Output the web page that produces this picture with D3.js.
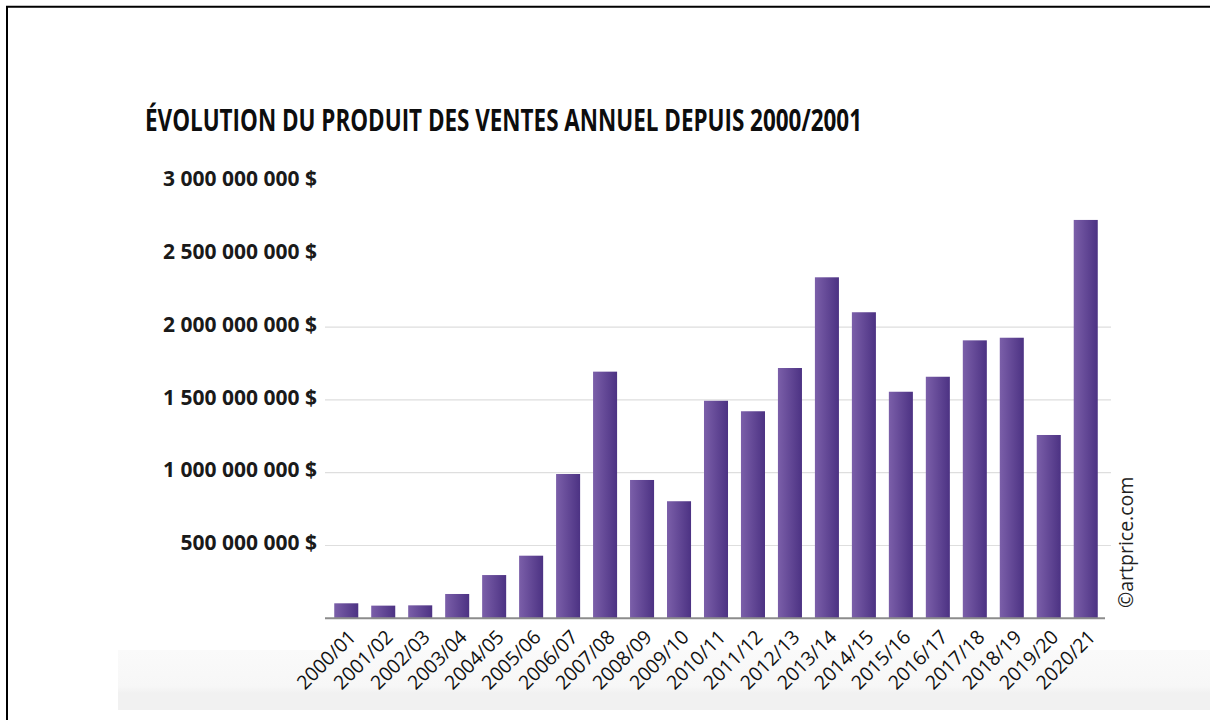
<!DOCTYPE html>
<html>
<head>
<meta charset="utf-8">
<script src="https://cdn.jsdelivr.net/npm/d3@7"></script>
<style>
  body { margin: 0; background: #fff; }
  svg { display: block; font-family: 'Open Sans', 'Noto Sans', sans-serif; }
</style>
</head>
<body>
<div class="canvas"></div>
<script>
// data
const seasons = ['2000/01', '2001/02', '2002/03', '2003/04', '2004/05', '2005/06', '2006/07',
  '2007/08', '2008/09', '2009/10', '2010/11', '2011/12', '2012/13', '2013/14', '2014/15',
  '2015/16', '2016/17', '2017/18', '2018/19', '2019/20', '2020/21'];
const turnover = [103e6, 87e6, 89e6, 167e6, 297e6, 430e6, 991e6, 1694e6, 950e6, 804e6,
  1494e6, 1422e6, 1719e6, 2342e6, 2102e6, 1556e6, 1659e6, 1909e6, 1927e6, 1259e6, 2736e6];
const yTicks = [500e6, 1000e6, 1500e6, 2000e6, 2500e6, 3000e6];
const gridTicks = [500e6, 1000e6, 1500e6, 2000e6];
const title = 'ÉVOLUTION DU PRODUIT DES VENTES ANNUEL DEPUIS 2000/2001';
const credit = '©artprice.com';

const width = 1210;
const height = 720;
const plot = { left: 325, right: 1107, top: 181.5, bottom: 618.3 };

const svg = d3.select('.canvas')
    .append('svg')
    .attr('width', width)
    .attr('height', height);

const defs = svg.append('defs');
const barGrad = defs.append('linearGradient')
    .attr('id', 'barGrad')
    .attr('x1', 0).attr('x2', 1).attr('y1', 0).attr('y2', 0);
barGrad.append('stop').attr('offset', '0%').attr('stop-color', '#7b5fa9');
barGrad.append('stop').attr('offset', '100%').attr('stop-color', '#4c3283');

const bandGrad = defs.append('linearGradient')
    .attr('id', 'bandGrad')
    .attr('x1', 0).attr('x2', 0).attr('y1', 0).attr('y2', 1);
bandGrad.append('stop').attr('offset', '0%').attr('stop-color', '#fafafa');
bandGrad.append('stop').attr('offset', '60%').attr('stop-color', '#f7f7f7');
bandGrad.append('stop').attr('offset', '72%').attr('stop-color', '#f1f1f1');
bandGrad.append('stop').attr('offset', '100%').attr('stop-color', '#f1f1f1');

// light grey strip behind the x labels
svg.append('rect')
    .attr('x', 118).attr('y', 650)
    .attr('width', width - 118).attr('height', 60)
    .attr('fill', 'url(#bandGrad)');

// frame (top and left only)
svg.append('path')
    .attr('d', `M7,${height} V6.7 H${width}`)
    .attr('fill', 'none')
    .attr('stroke', '#000')
    .attr('stroke-width', 2);

// title
svg.append('text')
    .attr('x', 145)
    .attr('y', 131)
    .attr('textLength', 717)
    .attr('lengthAdjust', 'spacingAndGlyphs')
    .attr('font-size', 30)
    .attr('font-weight', 700)
    .attr('fill', '#0d0d0d')
    .text(title);

//scales
const x = d3.scaleBand()
    .domain(seasons)
    .range([plot.left, plot.right])
    .paddingInner(0.35)
    .paddingOuter(0.25);
const y = d3.scaleLinear()
    .domain([0, 3000e6])
    .range([plot.bottom, plot.top]);

const fr = d3.formatLocale({ decimal: ',', thousands: ' ', grouping: [3], currency: ['', ' $'] });
const fmt = fr.format('$,.0f');

// gridlines
svg.append('g')
    .selectAll('line')
    .data(gridTicks)
    .enter()
    .append('line')
    .attr('x1', plot.left)
    .attr('x2', 1111)
    .attr('y1', d => y(d))
    .attr('y2', d => y(d))
    .attr('stroke', '#dedede')
    .attr('stroke-width', 1.2);

// y axis labels
const yAxisGroup = svg.append('g')
    .attr('class', 'y-axis')
    .attr('transform', 'translate(317,0)');
yAxisGroup.call(d3.axisLeft(y).tickValues(yTicks).tickSize(0).tickPadding(0).tickFormat(fmt));
yAxisGroup.select('.domain').remove();
yAxisGroup.selectAll('text')
    .attr('font-family', "'Open Sans', sans-serif")
    .attr('font-size', 21)
    .attr('font-weight', 700)
    .attr('fill', '#1a1a1a')
    .attr('dy', '0.2em');

// bars
svg.append('g')
    .selectAll('rect')
    .data(turnover)
    .enter()
    .append('rect')
    .attr('x', (d, i) => x(seasons[i]))
    .attr('y', d => y(d))
    .attr('width', x.bandwidth())
    .attr('height', d => y(0) - y(d))
    .attr('fill', 'url(#barGrad)');

// x axis
const xAxisGroup = svg.append('g')
    .attr('class', 'x-axis')
    .attr('transform', `translate(0,${plot.bottom})`);
xAxisGroup.call(d3.axisBottom(x).tickSize(0).tickSizeOuter(0));
xAxisGroup.select('.domain')
    .attr('d', `M${plot.left},0H1105`)
    .attr('stroke', '#8c8c8c')
    .attr('stroke-width', 2);
xAxisGroup.selectAll('text')
    .attr('font-family', "'Open Sans', sans-serif")
    .attr('font-size', 19.5)
    .attr('fill', '#111')
    .attr('y', 0)
    .attr('dy', 0)
    .attr('text-anchor', 'end')
    .attr('transform', 'translate(11,20) rotate(-45)');

// credit
svg.append('text')
    .attr('transform', 'translate(1133,608) rotate(-90)')
    .attr('font-size', 19.5)
    .attr('fill', '#222')
    .text(credit);
</script>
</body>
</html>
